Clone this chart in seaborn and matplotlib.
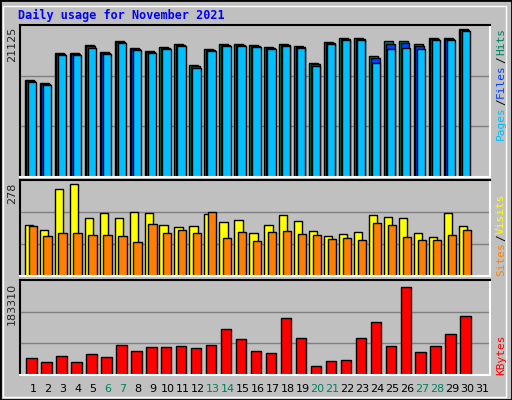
import numpy as np
import matplotlib
matplotlib.use("Agg")
import matplotlib.pyplot as plt
import seaborn as sns
from matplotlib.patches import Rectangle

# Daily values, November 2021
days = list(range(1, 32))
hits = [13520, 13090, 17320, 17320, 18440, 17460, 19010, 18020, 17600, 18160,
        18590, 15630, 17880, 18590, 18590, 18440, 18160, 18590, 18300, 15910,
        18870, 19430, 19430, 16900, 19010, 19010, 18590, 19430, 19430, 20700, 0]
files = [13400, 12960, 17200, 17180, 18300, 17330, 18880, 17890, 17470, 18030,
         18460, 15500, 17750, 18460, 18460, 18310, 18030, 18460, 18170, 15780,
         18740, 19300, 19300, 16600, 18600, 18700, 18300, 19300, 19300, 20580, 0]
pages = [13220, 12790, 16990, 16990, 17990, 17140, 18650, 17690, 17260, 17820,
         18250, 15290, 17550, 18250, 18250, 18110, 17820, 18250, 17970, 15570,
         18530, 19090, 19090, 15900, 17900, 18000, 17900, 19090, 19090, 20370, 0]
visits = [148, 133, 252, 267, 168, 183, 168, 186, 183, 148, 142, 145, 180, 157, 162,
          125, 148, 177, 160, 131, 116, 122, 128, 177, 171, 168, 125, 113, 183, 145, 0]
sites = [145, 116, 125, 125, 119, 119, 116, 99, 151, 125, 133, 125, 186, 110, 128,
         101, 128, 131, 122, 119, 107, 110, 104, 154, 148, 113, 104, 104, 119, 133, 0]
kbytes = [34700, 25100, 38600, 25100, 42500, 36700, 59800, 48300, 56000, 56000,
          57900, 54000, 59800, 90700, 71400, 48300, 44400, 113900, 73300, 17400,
          27000, 28900, 73300, 106100, 57900, 175600, 46300, 57900, 81100, 117700, 0]
weekends = [6, 7, 13, 14, 20, 21, 27, 28]

HITS_MAX, VISIT_MAX, KB_MAX = 21125, 278, 183310

sns.set_style("white")
plt.rcParams['font.family'] = ['DejaVu Sans Mono']
BG = '#c0c0c0'
W, H = 512, 400
LEFT, RIGHT = 20, 490
DAY1, STEP = 33, 14.97

fig = plt.figure(figsize=(5.12, 4.0), dpi=100, facecolor=BG)
fig.patches.append(Rectangle((0, 0), 1, 1, transform=fig.transFigure,
                             fill=False, edgecolor='black', lw=2))
fig.patches.append(Rectangle((3 / W, 3 / H), 1 - 9 / W, 1 - 9 / H, transform=fig.transFigure,
                             fill=False, edgecolor='white', lw=1))


def make_ax(top, bottom, ymax):
    ax = fig.add_axes([LEFT / W, 1 - bottom / H, (RIGHT - LEFT) / W, (bottom - top) / H])
    ax.set_facecolor(BG)
    ax.set_xlim(1 - (DAY1 - LEFT) / STEP, 1 + (RIGHT - DAY1) / STEP)
    ax.set_ylim(0, ymax)
    for v in (ymax / 3, 2 * ymax / 3):
        ax.axhline(v, color='#808080', lw=1, zorder=0)
    ax.set_xticks([])
    ax.set_yticks([])
    ax.spines['top'].set_color('black')
    ax.spines['left'].set_color('black')
    ax.spines['bottom'].set_color('white')
    ax.spines['right'].set_color('white')
    for s in ax.spines.values():
        s.set_linewidth(1.5)
    return ax


x = np.array(days, dtype=float)
kw = dict(align='edge', edgecolor='black', linewidth=1)

ax1 = make_ax(25, 177, HITS_MAX * 1.005)
ax1.bar(x - 0.55, hits, width=0.6, color='#00805c', **kw)
ax1.bar(x - 0.45, files, width=0.6, color='#0040ff', **kw)
ax1.bar(x - 0.35, pages, width=0.55, color='#00c0ff', **kw)

ax2 = make_ax(180, 276, VISIT_MAX * 1.0)
ax2.bar(x - 0.55, visits, width=0.55, color='#ffff00', **kw)
ax2.bar(x - 0.3, sites, width=0.55, color='#ff8000', **kw)

ax3 = make_ax(280, 375, KB_MAX * 1.03)
ax3.bar(x - 0.45, kbytes, width=0.7, color='#ff0000', **kw)

# day labels
for d in days:
    col = '#00805c' if d in weekends else 'black'
    fig.text((DAY1 + (d - 1) * STEP) / W, 1 - 389 / H, str(d),
             ha='center', va='center', fontsize=8, color=col, family='DejaVu Sans')

# title
fig.text(18 / W, 1 - 15 / H, 'Daily usage for November 2021', color='#0000ff',
         fontsize=8.5, fontweight='bold', va='center', ha='left')

# left max labels
for label, ytop in (('21125', 27), ('278', 183), ('183310', 283)):
    fig.text(12 / W, 1 - ytop / H, label, rotation=90, ha='center', va='top',
             fontsize=8, family='DejaVu Sans')

renderer = fig.canvas.get_renderer()


def side_label(parts, ybottom):
    y = ybottom
    for txt, col in parts:
        t = fig.text(501 / W, 1 - y / H, txt, rotation=90, ha='center', va='bottom',
                     fontsize=8, color=col)
        y -= t.get_window_extent(renderer).height + 1


side_label([('Pages', '#00c0ff'), ('/', 'black'), ('Files', '#0040ff'),
            ('/', 'black'), ('Hits', '#00805c')], 140)
side_label([('Sites', '#ff8000'), ('/', 'black'), ('Visits', '#ffff00')], 276)
side_label([('KBytes', '#ff0000')], 375)

fig.savefig('out.png', dpi=100, facecolor=BG)
